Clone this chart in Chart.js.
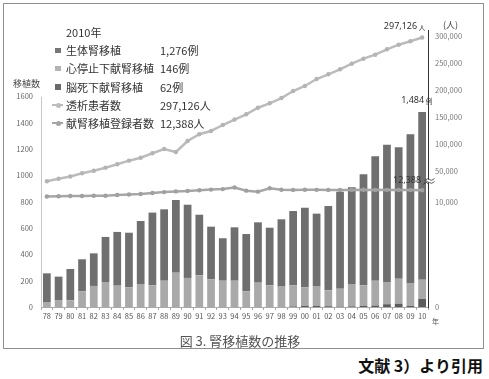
<!DOCTYPE html>
<html lang="ja">
<head>
<meta charset="utf-8">
<title>腎移植数の推移</title>
<script src="https://cdn.jsdelivr.net/npm/chart.js@4.4.1/dist/chart.umd.min.js"></script>
<style>
  html, body { margin: 0; padding: 0; background: #fff; }
  body { width: 489px; height: 379px; position: relative; overflow: hidden;
         font-family: 'Noto Sans CJK JP', 'Noto Sans', sans-serif; color: #333; }
  #chart { position: absolute; left: 0; top: 0; }
  .frame { position: absolute; left: 3px; top: 3px; width: 481px; height: 346px;
           box-sizing: border-box; border: 1px solid #8f8f8f; pointer-events: none; }
  .lbl { position: absolute; white-space: nowrap; }
  #legend .row { position: absolute; left: 0; height: 14px; line-height: 14px; font-size: 11px; white-space: nowrap; }
  #legend .nm { position: absolute; left: 66px; }
  #legend .val { position: absolute; left: 160px; }
  #legend .sq { position: absolute; left: 55px; top: 4.5px; width: 5.5px; height: 5.5px; }
  #legend .ln { position: absolute; left: 52px; top: 6px; width: 11px; height: 2px; }
  #legend .ln i { position: absolute; left: 3.5px; top: -1.5px; width: 5px; height: 5px; border-radius: 50%; background: inherit; }
</style>
</head>
<body>
<canvas id="chart" width="489" height="330"></canvas>
<div class="frame"></div>
<div id="legend"></div>
<div class="lbl" style="left:13px;top:77px;font-size:9px;color:#444;">移植数</div>
<div class="lbl" style="left:443px;top:18px;font-size:9px;color:#444;">(人)</div>
<div class="lbl" style="left:432px;top:316px;font-size:7px;color:#555;">年</div>
<div class="lbl" style="left:0;width:480px;top:331px;text-align:center;font-size:13px;color:#555;">図 3. 腎移植数の推移</div>
<div class="lbl" style="right:6px;top:353px;font-size:16px;font-weight:bold;color:#111;">文献 3）より引用</div>

<script>
// データ
var years = ['78','79','80','81','82','83','84','85','86','87','88','89','90','91','92','93','94','95','96','97','98','99','00','01','02','03','04','05','06','07','08','09','10'];
var livingDonor  = [218,178,238,244,248,343,409,415,479,553,543,553,557,461,400,323,406,436,459,438,512,565,605,555,641,738,736,844,946,1045,1000,1131,1276];
var cardiacDeath = [38,53,51,119,160,190,162,150,175,165,200,261,221,241,211,200,200,119,185,165,155,161,142,147,121,136,170,156,189,169,190,175,146];
var brainDeath   = [0,0,0,0,0,0,0,0,0,0,0,0,0,0,0,0,0,0,0,0,0,4,8,8,6,3,5,9,11,21,25,8,62];
var dialysis = [29600,34600,38900,45200,50000,55600,61900,68600,74100,82300,90300,84700,105100,117600,123700,134800,145000,154700,166900,175100,184900,197900,207200,220200,228900,238200,248600,257900,265300,275300,283900,290200,297126];
var waitList = [11100,11150,11200,11200,11250,11250,11400,11500,11600,11800,12000,12150,12250,12400,13500,14500,17500,12300,12100,16000,13200,13000,13300,13100,13000,12900,13000,13200,12900,13100,12800,12600,12388];
var leftTicks  = [0,200,400,600,800,1000,1200,1400,1600];
var rightTicks = [0,10000,50000,100000,150000,200000,250000,300000];

var names = ['生体腎移植', '心停止下献腎移植', '脳死下献腎移植', '透析患者数', '献腎移植登録者数'];
var last = years.length - 1;

// 右軸（途中省略あり）: 値 → 軸上の位置(0..1)
var breakPoints = [[0,0],[10000,0.3801],[12400,0.4217],[50000,0.4921],[300000,0.9783]];
function toDec(v) {
  var p = breakPoints;
  for (var i = 1; i < p.length; i++) {
    if (v <= p[i][0] || i == p.length - 1) {
      return p[i-1][1] + (v - p[i-1][0]) * (p[i][1] - p[i-1][1]) / (p[i][0] - p[i-1][0]);
    }
  }
}
function fromDec(d) {
  var p = breakPoints;
  for (var i = 1; i < p.length; i++) {
    if (d <= p[i][1] || i == p.length - 1) {
      return p[i-1][0] + (d - p[i-1][1]) * (p[i][0] - p[i-1][0]) / (p[i][1] - p[i-1][1]);
    }
  }
}
class BrokenScale extends Chart.LinearScale {
  getPixelForValue(v) {
    if (v === null || isNaN(v)) return NaN;
    return this.getPixelForDecimal(toDec(v));
  }
  getValueForPixel(px) {
    return fromDec(this.getDecimalForPixel(px));
  }
}
BrokenScale.id = 'broken';
BrokenScale.defaults = Chart.LinearScale.defaults;
Chart.register(BrokenScale);

// 凡例
var fmt = function(n){ return n.toLocaleString('en-US'); };
var legendRows = [
  {kind:'sq', color:'#767676', name:names[0], val:fmt(livingDonor[last]) + '例'},
  {kind:'sq', color:'#b3b3b3', name:names[1], val:fmt(cardiacDeath[last]) + '例'},
  {kind:'sq', color:'#6a6a6a', name:names[2], val:fmt(brainDeath[last]) + '例'},
  {kind:'ln', color:'#bcbcbc', name:names[3], val:fmt(dialysis[last]) + '人'},
  {kind:'ln', color:'#a4a4a4', name:names[4], val:fmt(waitList[last]) + '人'}
];
var lg = document.getElementById('legend');
var html = '<div class="row" style="top:24.5px;"><span class="nm">20' + years[last] + '年</span></div>';
legendRows.forEach(function(r, i){
  var top = 43 + i * 18.35;
  var mk = r.kind == 'sq'
    ? '<span class="sq" style="background:' + r.color + '"></span>'
    : '<span class="ln" style="background:' + r.color + '"><i></i></span>';
  html += '<div class="row" style="top:' + top + 'px;">' + mk +
          '<span class="nm">' + r.name + '</span><span class="val">' + r.val + '</span></div>';
});
lg.innerHTML = html;

// 軸線・省略記号・数値ラベル
var extras = {
  id: 'extras',
  beforeDatasetsDraw: function(chart) {
    var ctx = chart.ctx, y = chart.scales.y;
    ctx.save();
    ctx.strokeStyle = '#c6c6c6';
    ctx.lineWidth = 1;
    ctx.beginPath();
    ctx.moveTo(chart.chartArea.left + 0.5, y.getPixelForValue(1600));
    ctx.lineTo(chart.chartArea.left + 0.5, y.bottom);
    ctx.stroke();
    ctx.restore();
  },
  afterDatasetsDraw: function(chart) {
    var ctx = chart.ctx, y2 = chart.scales.y2;
    ctx.save();
    // 右軸の省略記号
    var bx = y2.left + 0.5, by = y2.getPixelForValue(30000);
    ctx.fillStyle = '#fff';
    ctx.fillRect(bx - 3, by - 1.5, 7, 3);
    ctx.strokeStyle = '#333';
    ctx.lineWidth = 0.8;
    [-1.5, 1.5].forEach(function(off){
      ctx.beginPath();
      ctx.moveTo(bx - 4, by + off + 1);
      ctx.quadraticCurveTo(bx - 1, by + off - 2, bx + 1, by + off);
      ctx.quadraticCurveTo(bx + 3, by + off + 2, bx + 6, by + off - 1);
      ctx.stroke();
    });

    function numLabel(num, unit, xr, ym) {
      ctx.fillStyle = '#333';
      ctx.font = '9px "Noto Sans", sans-serif';
      ctx.textAlign = 'right';
      ctx.textBaseline = 'middle';
      ctx.fillText(num, xr, ym);
      ctx.font = '6.5px "Noto Sans CJK JP"';
      ctx.textAlign = 'left';
      ctx.fillText(unit, xr + 1.5, ym + 1);
    }
    var dp = chart.getDatasetMeta(3).data[last];
    numLabel(fmt(dialysis[last]), '人', dp.x - 5, dp.y - 11.5);
    var bar = chart.getDatasetMeta(2).data[last];
    numLabel(fmt(livingDonor[last] + cardiacDeath[last] + brainDeath[last]), '例', bar.x + 2, bar.y - 11);
    var wp = chart.getDatasetMeta(4).data[last];
    numLabel(fmt(waitList[last]), '人', wp.x - 1, wp.y - 9.5);
    ctx.restore();
  }
};

Chart.defaults.font.family = "'Noto Sans CJK JP', 'Noto Sans', sans-serif";
Chart.defaults.font.size = 7.5;

new Chart(document.getElementById('chart'), {
  data: {
    labels: years,
    datasets: [
      {type:'bar', label:names[2], data:brainDeath,   backgroundColor:'#5c5c5c', yAxisID:'y', order:2},
      {type:'bar', label:names[1], data:cardiacDeath, backgroundColor:'#a9a9a9', yAxisID:'y', order:2},
      {type:'bar', label:names[0], data:livingDonor,  backgroundColor:'#6f6f6f', yAxisID:'y', order:2},
      {type:'line', label:names[3], data:dialysis, yAxisID:'y2', order:1,
        borderColor:'#bcbcbc', borderWidth:2.5, pointRadius:2.2, pointBorderWidth:0,
        pointBackgroundColor:'#b4b4b4', tension:0},
      {type:'line', label:names[4], data:waitList, yAxisID:'y2', order:1,
        borderColor:'#a6a6a6', borderWidth:2.5, pointRadius:2.2, pointBorderWidth:0,
        pointBackgroundColor:'#a0a0a0', tension:0}
    ]
  },
  options: {
    responsive: false,
    animation: false,
    devicePixelRatio: 1,
    layout: { padding: { top: 30, left: 0, right: 0, bottom: 0 } },
    plugins: { legend: { display: false }, tooltip: { enabled: false } },
    datasets: { bar: { categoryPercentage: 1, barPercentage: 0.66 } },
    scales: {
      x: {
        stacked: true,
        offset: true,
        grid: { drawOnChartArea: false, tickLength: 3, color: '#aaa', offset: true },
        border: { color: '#aaa' },
        ticks: { padding: 2, color: '#555', maxRotation: 0, autoSkip: false },
        afterFit: function(s){ s.height = 23; }
      },
      y: {
        stacked: true,
        position: 'left',
        min: 0,
        max: 2107,
        grid: { display: false, drawTicks: false },
        border: { display: false },
        ticks: { padding: 8, color: '#666', callback: function(v){ return String(v); } },
        afterFit: function(s){ s.width = 41; },
        afterBuildTicks: function(s){ s.ticks = leftTicks.map(function(v){ return {value:v}; }); }
      },
      y2: {
        type: 'broken',
        position: 'right',
        min: 0,
        max: 311136,
        grid: { display: false, drawTicks: false },
        border: { display: true, color: '#333' },
        ticks: { padding: 7, color: '#777', callback: function(v){ return fmt(v); } },
        afterFit: function(s){ s.width = 61; },
        afterBuildTicks: function(s){ s.ticks = rightTicks.map(function(v){ return {value:v}; }); }
      }
    }
  },
  plugins: [extras]
});
</script>
</body>
</html>
